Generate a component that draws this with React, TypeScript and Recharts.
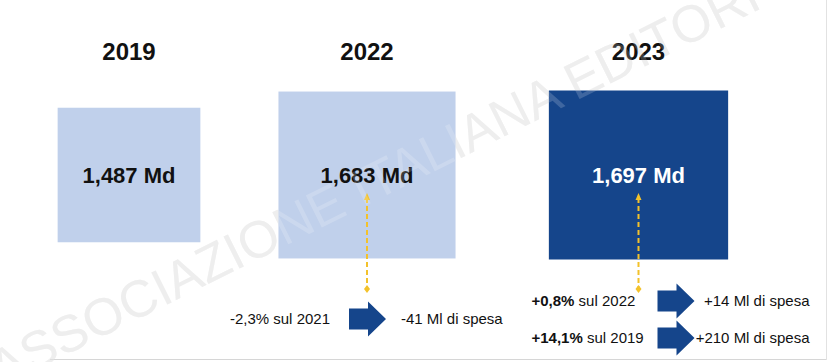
import React from "react";
import { ScatterChart, Scatter, XAxis, YAxis, ZAxis, LabelList } from "recharts";

// spesa totale per anno (miliardi di euro)
const anni = ["2019", "2022", "2023"];
const spesaMd = [1.487, 1.683, 1.697];

// confronti mostrati sotto i riquadri
const variazioni = [[], ["-2,3%"], ["+0,8%", "+14,1%"]];
const anniConfronto = [[], ["2021"], ["2022", "2019"]];
const deltaMl = [[], [-41], [14, 210]];

const CHIARO = "#c0d0eb";
const SCURO = "#15458b";
const GIALLO = "#f3c22b";
const FONT = "'Liberation Sans', Arial, Helvetica, sans-serif";

// solo impaginazione e stili di ogni colonna
const colonne = [
  { width: 258, fill: CHIARO, label: "#111", rows: [] as number[], arrowX: 0, leftX: 0, leftAnchor: "end", rightX: 0, rightAnchor: "start", bold: false },
  { width: 218, fill: CHIARO, label: "#111", rows: [144], arrowX: -18, leftX: -37, leftAnchor: "end", rightX: 34, rightAnchor: "start", bold: false },
  { width: 325, fill: SCURO, label: "#fff", rows: [126, 163], arrowX: 19, leftX: -107, leftAnchor: "start", rightX: 171, rightAnchor: "end", bold: true },
];

const fmtMd = (v: number) => v.toFixed(3).replace(".", ",") + " Md";
const fmtMl = (v: number) => (v > 0 ? "+" : "") + v + " Ml di spesa";

const freccia = (x: number, y: number) =>
  `M${x},${y - 10.5} L${x + 19},${y - 10.5} L${x + 19},${y - 17.5} L${x + 37},${y} L${x + 19},${y + 17.5} L${x + 19},${y + 10.5} L${x},${y + 10.5} Z`;

const Riquadro = (props: any) => {
  const { cx, cy, fill, i } = props;
  const col = colonne[i];
  const size = props.size ?? Math.PI * Math.pow(props.width / 2, 2);
  const side = Math.sqrt(size);
  const w = side * 1.03;
  const h = side / 1.03;
  return (
    <g>
      <rect x={cx - w / 2} y={cy - h / 2} width={w} height={h} fill={fill} />
      {col.rows.length > 0 && (
        <g>
          <line x1={cx} y1={cy + 23} x2={cx} y2={cy + 112} stroke={GIALLO} strokeWidth={2} strokeDasharray="5 3" />
          <polygon points={`${cx - 3},${cy + 25} ${cx + 3},${cy + 25} ${cx},${cy + 18}`} fill={GIALLO} />
          <polygon points={`${cx},${cy + 110} ${cx + 3},${cy + 114} ${cx},${cy + 118} ${cx - 3},${cy + 114}`} fill={GIALLO} />
        </g>
      )}
      {col.rows.map((dy, k) => (
        <g key={k} fontFamily={FONT} fontSize={15} fill="#111">
          <text x={cx + col.leftX} y={cy + dy + 5} textAnchor={col.leftAnchor}>
            <tspan fontWeight={col.bold ? 700 : 400}>{variazioni[i][k]}</tspan>
            <tspan> sul {anniConfronto[i][k]}</tspan>
          </text>
          <path d={freccia(cx + col.arrowX, cy + dy)} fill={SCURO} />
          <text x={cx + col.rightX} y={cy + dy + 5} textAnchor={col.rightAnchor}>
            {fmtMl(deltaMl[i][k])}
          </text>
        </g>
      ))}
    </g>
  );
};

const Colonna = ({ i }: { i: number }) => {
  const col = colonne[i];
  const dati = [{ anno: anni[i], spesa: spesaMd[i], riga: "spesa" }];
  return (
    <ScatterChart width={col.width} height={362} margin={{ top: 0, right: 0, bottom: 102, left: 0 }}>
      <XAxis
        dataKey="anno"
        type="category"
        orientation="top"
        height={90}
        axisLine={false}
        tickLine={false}
        tickSize={0}
        tickMargin={30}
        interval={0}
        tick={{ fontSize: 24, fontWeight: 700, fill: "#111", fontFamily: FONT }}
      />
      <YAxis dataKey="riga" type="category" hide />
      <ZAxis dataKey="spesa" type="number" domain={[Math.min(...spesaMd), Math.max(...spesaMd)]} range={[19200, 30300]} />
      <Scatter data={dati} fill={col.fill} isAnimationActive={false} shape={(p: any) => <Riquadro {...p} i={i} />}>
        <LabelList
          dataKey="spesa"
          position="center"
          formatter={(v: any) => fmtMd(Number(v))}
          fill={col.label}
          stroke="none"
          fontSize={22}
          fontWeight={700}
          fontFamily={FONT}
        />
      </Scatter>
    </ScatterChart>
  );
};

const Filigrana = ({ color, opacity }: { color: string; opacity: number }) => (
  <text
    transform="translate(0,388) rotate(-26.5)"
    fontSize={52}
    fill={color}
    fillOpacity={opacity}
    fontFamily={FONT}
  >
    ASSOCIAZIONE ITALIANA EDITORI
  </text>
);

export default function App() {
  return (
    <div style={{ position: "relative", width: 830, height: 362, background: "#fff", fontFamily: FONT }}>
      <style>{"body{margin:0} .recharts-surface{overflow:visible}"}</style>
      <svg width={830} height={362} style={{ position: "absolute", left: 0, top: 0 }}>
        <Filigrana color="#ebebeb" opacity={1} />
        <line x1={50} y1={359.5} x2={827} y2={359.5} stroke="#d6d6d6" />
        <line x1={826.5} y1={0} x2={826.5} y2={360} stroke="#e2e2e2" />
      </svg>
      <div style={{ position: "absolute", left: 0, top: 0, display: "flex" }}>
        {anni.map((_, i) => (
          <Colonna key={i} i={i} />
        ))}
      </div>
      <svg width={830} height={362} style={{ position: "absolute", left: 0, top: 0, pointerEvents: "none" }}>
        <Filigrana color="#ffffff" opacity={0.18} />
      </svg>
    </div>
  );
}
